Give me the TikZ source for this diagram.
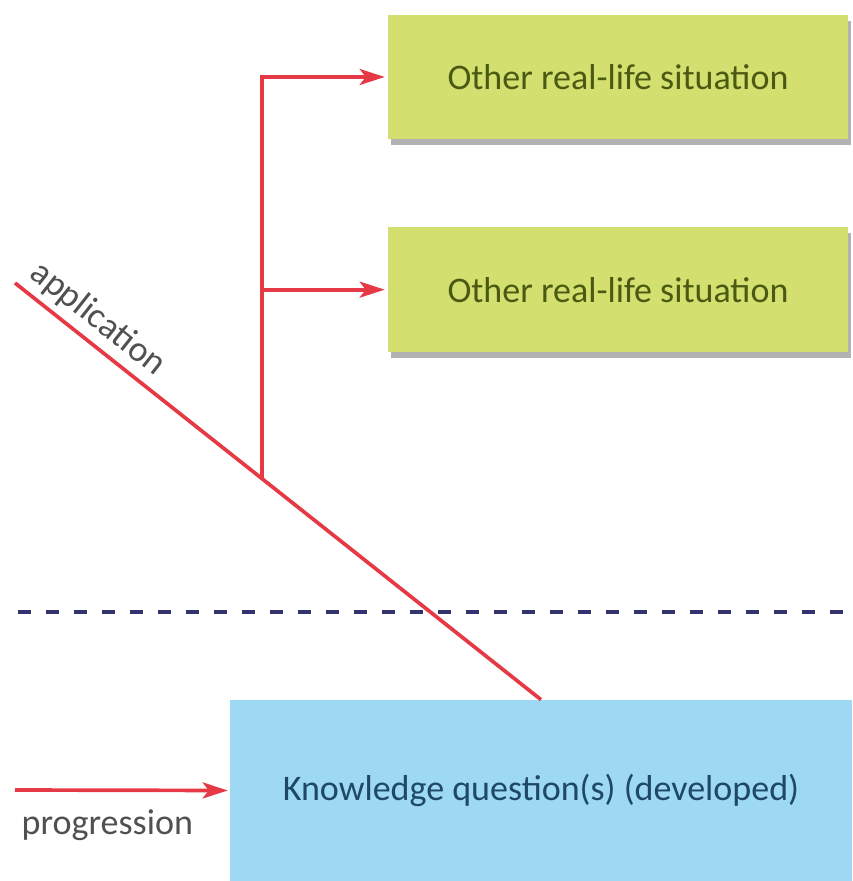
\documentclass[tikz,border=0pt]{standalone}
\usepackage{fontspec}
\setmainfont{Carlito}
\usetikzlibrary{arrows.meta,positioning,shadows}
\definecolor{arrowred}{HTML}{E53A45}
\definecolor{situgreen}{HTML}{D3DF6E}
\definecolor{situtext}{HTML}{4B5A12}
\definecolor{kqblue}{HTML}{9DD9F3}
\definecolor{kqtext}{HTML}{1E4866}
\definecolor{labelgray}{HTML}{505050}
\definecolor{dashnavy}{HTML}{34336E}
\tikzstyle{situation} = [fill=situgreen, text=situtext, rectangle,
minimum width=9.2cm, minimum height=2.5cm,
drop shadow={shadow xshift=0.06cm, shadow yshift=-0.12cm, fill=black!30, opacity=1}]
\tikzstyle{question} = [fill=kqblue, text=kqtext, rectangle,
minimum width=12.44cm, minimum height=3.62cm]
\tikzstyle{redline} = [draw=arrowred, line width=2.1pt]
\tikzstyle{textlabel} = [text=labelgray]

\begin{document}
\begin{tikzpicture}[x=0.02cm, y=-0.02cm, >={Stealth[length=0.5cm, width=0.32cm, inset=0.12cm]}, font=\fontsize{20.5}{24}\selectfont]
		\useasboundingbox (0,0) rectangle (852,881);
		\node(situa)[situation] at (618,77){Other real-life situation};
		\node(situb)[situation, below=1.74cm of situa]{Other real-life situation};
		\node(kq)[question] at (541,790.5){Knowledge question(s) (developed)};
		
		\coordinate(appstart) at (15,283);
		\coordinate(branch) at (262,478.8);
		\coordinate(progstart) at (15,790);
		\coordinate(divleft) at (18,612);
		\coordinate(divright) at (852,612);
		
		\draw[dashnavy, line width=2.4pt, dash pattern=on 0.26cm off 0.3cm] (divleft) -- (divright);
		\draw[redline] (appstart) -- node[textlabel, sloped, above, pos=0.13]{application} (kq.north);
		\draw[redline, ->, shorten >=0.06cm] (branch) |- (situa.west);
		\draw[redline, ->, shorten >=0.06cm] (branch) |- (situb.west);
		\draw[redline, ->, shorten >=0.04cm] (progstart) -- node[textlabel, below, pos=0.43, yshift=-0.24cm]{progression} (kq.west);
\end{tikzpicture}
\end{document}
